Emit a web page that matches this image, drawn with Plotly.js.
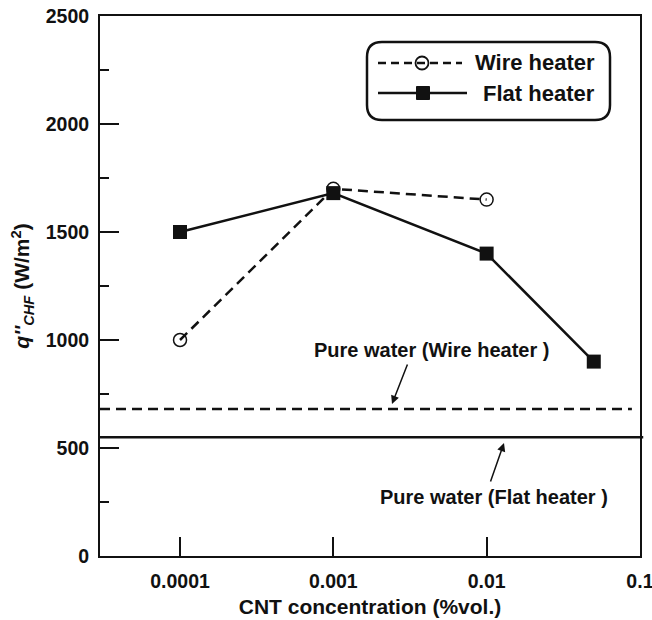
<!DOCTYPE html>
<html>
<head>
<meta charset="utf-8">
<script src="https://cdn.plot.ly/plotly-3.0.1.min.js"></script>
<style>body{margin:0;background:#fff}#chart{width:652px;height:620px}</style>
</head>
<body>
<div id="chart"></div>
<script>
const wireX = [0.0001, 0.001, 0.01];
const wireY = [1000, 1700, 1650];
const flatX = [0.0001, 0.001, 0.01, 0.05];
const flatY = [1500, 1680, 1400, 900];
const pureWaterWire = 680;
const pureWaterFlat = 550;
const seriesNames = ['Wire heater', 'Flat heater'];
const pureWaterLabels = ['Pure water (Wire heater )', 'Pure water (Flat heater )'];
const xTickVals = [0.0001, 0.001, 0.01, 0.1];
const xTickText = ['0.0001', '0.001', '0.01', '0.1'];
const yTickVals = [0, 500, 1000, 1500, 2000, 2500];

const F = 'Liberation Sans, Arial, sans-serif';
const ink = '#111';
const dashMain = '10px,6px';

const traces = [
  {x: wireX, y: wireY, name: seriesNames[0], mode: 'lines+markers', type: 'scatter',
   line: {color: ink, width: 2.5, dash: dashMain},
   marker: {symbol: 'circle-open', size: 13, color: ink, line: {width: 1.5, color: ink}}},
  {x: flatX, y: flatY, name: seriesNames[1], mode: 'lines+markers', type: 'scatter',
   line: {color: ink, width: 2.5},
   marker: {symbol: 'square', size: 14, color: ink}}
];

// paper-coordinate helpers for the plot area (540 x 540 px)
const px = v => (v - 100) / 540;
const py = v => (556 - v) / 540;

const r = 15 / 540;
const bx0 = px(367), bx1 = px(610), by0 = py(120), by1 = py(42);
const boxPath = `M ${bx0} ${by0 + r} L ${bx0} ${by1 - r} Q ${bx0} ${by1} ${bx0 + r} ${by1} L ${bx1 - r} ${by1} Q ${bx1} ${by1} ${bx1} ${by1 - r} L ${bx1} ${by0 + r} Q ${bx1} ${by0} ${bx1 - r} ${by0} L ${bx0 + r} ${by0} Q ${bx0} ${by0} ${bx0} ${by0 + r} Z`;

const layout = {
  width: 652, height: 620,
  margin: {l: 100, r: 12, t: 16, b: 64},
  paper_bgcolor: '#fff', plot_bgcolor: '#fff',
  showlegend: false,
  xaxis: {type: 'log', range: [Math.log10(0.0001) - 0.522, -0.9995],
          tickvals: xTickVals, ticktext: xTickText, ticks: 'inside', ticklen: 19, tickwidth: 2,
          tickcolor: ink, showline: true, linecolor: ink, linewidth: 2, mirror: true,
          showgrid: false, zeroline: false, ticklabelstandoff: 7, ticklabeloverflow: 'allow',
          tickfont: {family: F, size: 19.5, color: ink, weight: 'bold'},
          title: {text: '<b>CNT concentration (%vol.)</b>', font: {family: F, size: 21, color: ink}, standoff: 8}},
  yaxis: {range: [0, 2500], tickvals: yTickVals, ticks: 'inside', ticklen: 19, tickwidth: 2,
          tickcolor: ink, showline: true, linecolor: ink, linewidth: 2, mirror: true,
          showgrid: false, zeroline: false, ticklabelstandoff: 5,
          tickfont: {family: F, size: 19.5, color: ink, weight: 'bold'},
          minor: {dtick: 250, ticks: 'inside', ticklen: 9, tickwidth: 2, tickcolor: ink, showgrid: false},
          title: {text: "<b><i>q''</i><sub><i>CHF</i></sub> (W/m<sup>2</sup>)</b>", font: {family: F, size: 21, color: ink}, standoff: 10}},
  shapes: [
    {type: 'line', xref: 'paper', yref: 'y', x0: 0, x1: 0.985, y0: pureWaterWire, y1: pureWaterWire,
     line: {color: ink, width: 2.5, dash: dashMain}},
    {type: 'line', xref: 'paper', yref: 'y', x0: 0, x1: 1.006, y0: pureWaterFlat, y1: pureWaterFlat,
     line: {color: ink, width: 2.5}},
    // legend box
    {type: 'path', xref: 'paper', yref: 'paper', path: boxPath, line: {color: ink, width: 2.5}},
    // legend samples
    {type: 'line', xref: 'paper', yref: 'paper', x0: px(378), x1: px(462), y0: py(63), y1: py(63),
     line: {color: ink, width: 2.5, dash: '8px,5px'}},
    {type: 'circle', xref: 'paper', yref: 'paper', xsizemode: 'pixel', ysizemode: 'pixel',
     xanchor: px(422), yanchor: py(63), x0: -6.5, x1: 6.5, y0: -6.5, y1: 6.5,
     line: {color: ink, width: 1.8}},
    {type: 'line', xref: 'paper', yref: 'paper', x0: px(378), x1: px(467), y0: py(93), y1: py(93),
     line: {color: ink, width: 2.5}},
    {type: 'rect', xref: 'paper', yref: 'paper', xsizemode: 'pixel', ysizemode: 'pixel',
     xanchor: px(423), yanchor: py(93), x0: -6.5, x1: 6.5, y0: -6.5, y1: 6.5,
     fillcolor: ink, line: {color: ink, width: 1}}
  ],
  annotations: [
    {xref: 'paper', yref: 'paper', x: px(597), y: py(63), xanchor: 'right', yanchor: 'middle', text: '<b>' + seriesNames[0] + '</b>',
     showarrow: false, font: {family: F, size: 22, color: ink}},
    {xref: 'paper', yref: 'paper', x: px(597), y: py(93), xanchor: 'right', yanchor: 'middle', text: '<b>' + seriesNames[1] + '</b>',
     showarrow: false, font: {family: F, size: 22, color: ink}},
    {xref: 'paper', yref: 'paper', x: px(431), y: py(350), xanchor: 'center', yanchor: 'middle', text: '<b>' + pureWaterLabels[0] + '</b>',
     showarrow: false, font: {family: F, size: 20, color: ink}},
    {xref: 'paper', yref: 'paper', x: px(392), y: py(404), text: '',
     showarrow: true, ax: 16, ay: -41, arrowhead: 2, arrowsize: 1.1, arrowwidth: 1.5, arrowcolor: ink},
    {xref: 'paper', yref: 'paper', x: px(494), y: py(497), xanchor: 'center', yanchor: 'middle', text: '<b>' + pureWaterLabels[1] + '</b>',
     showarrow: false, font: {family: F, size: 20, color: ink}},
    {xref: 'paper', yref: 'paper', x: px(504), y: py(443), text: '',
     showarrow: true, ax: -14, ay: 40, arrowhead: 2, arrowsize: 1.1, arrowwidth: 1.5, arrowcolor: ink}
  ]
};

Plotly.newPlot('chart', traces, layout, {displayModeBar: false, staticPlot: true});
</script>
</body>
</html>
